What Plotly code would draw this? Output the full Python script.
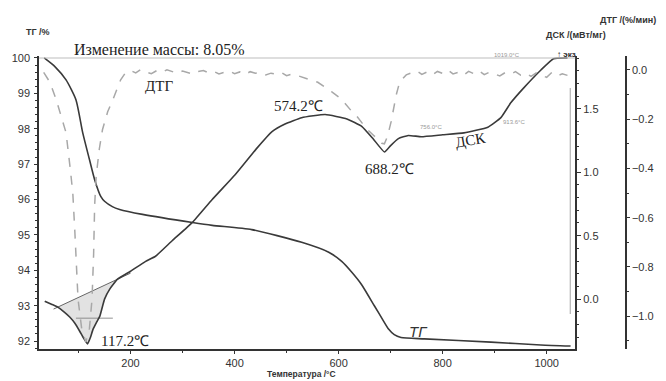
import numpy as np
import plotly.graph_objects as go

# ---------------- data ----------------
temp_tg = [34, 55, 76, 95, 108, 121, 131, 143, 150, 165, 179, 223, 319, 357, 433, 529, 581,
           606, 625, 644, 669, 685, 696, 707, 720, 765, 893, 989, 1046]
tg = [100.0, 99.75, 99.38, 98.82, 97.89, 97.13, 96.56, 96.08, 95.95, 95.80, 95.72, 95.58, 95.35,
      95.27, 95.15, 94.79, 94.51, 94.25, 93.95, 93.60, 92.99, 92.60, 92.34, 92.18, 92.10, 92.06,
      91.97, 91.89, 91.86]

temp_dsc = [35, 48, 60, 72, 83, 93, 102, 110, 117.2, 123, 128, 135, 141, 150, 160, 175,
            200, 229, 248, 280, 319, 357, 401, 443, 472, 497, 529, 574.2,
            616, 645, 667, 688.2, 700, 715, 734, 759, 800, 841,
            887, 912, 931, 956, 989, 1013, 1040]
dsc = [-0.016, -0.04, -0.063, -0.10, -0.141, -0.19, -0.251, -0.31, -0.353, -0.30, -0.236, -0.18,
       -0.134, 0.0, 0.079, 0.157,
       0.22, 0.298, 0.338, 0.46, 0.605, 0.785, 0.98, 1.19, 1.32, 1.38, 1.43, 1.455,
       1.42, 1.36, 1.26, 1.16, 1.21, 1.265, 1.29, 1.28, 1.295, 1.31,
       1.355, 1.43, 1.547, 1.665, 1.806, 1.895, 1.90]

temp_dtg = [33, 45, 57, 66, 76, 84, 89, 93, 99, 106, 114, 121, 126, 129, 131, 134, 140, 146, 156,
            166, 181, 190,
            200, 210, 220, 230, 240, 250, 260, 270, 280, 290, 300, 310, 320, 330, 340, 350, 360,
            370, 380, 390, 400, 410, 420, 430, 440, 450, 460, 470, 480, 490, 500, 510, 520, 530,
            545, 560, 575, 587, 600, 612, 624, 634, 645, 657, 667, 676, 683, 688, 694, 701, 706,
            711, 716, 721, 730,
            740, 750, 760, 770, 780, 790, 800, 810, 820, 830, 840, 850, 860, 870, 880, 890, 900,
            910, 920, 930, 940, 950, 960, 970, 980, 990, 1000, 1010, 1020, 1030, 1040]
dtg = [-0.01, -0.05, -0.12, -0.18, -0.255, -0.40, -0.50, -0.66, -0.93, -1.05, -1.105, -1.05,
       -0.93, -0.75, -0.55, -0.43, -0.32, -0.243, -0.17, -0.121, -0.04, -0.012,
       -0.002, -0.012, 0.002, -0.008, -0.015, -0.003, -0.010, 0.001, -0.007, -0.014, -0.004,
       -0.010, -0.017, -0.006, -0.002, -0.012, -0.006, -0.016, -0.009, -0.004, -0.015, -0.008,
       -0.019, -0.007, -0.013, -0.010, -0.020, -0.013, -0.017, -0.010, -0.023, -0.017, -0.022,
       -0.028,
       -0.04, -0.05, -0.07, -0.089, -0.11, -0.135, -0.165, -0.185, -0.215, -0.245, -0.265,
       -0.285, -0.298, -0.30, -0.27, -0.21, -0.15, -0.10, -0.06, -0.04, -0.02,
       -0.012, -0.004, -0.018, -0.008, -0.020, -0.006, -0.014, 0.000, -0.016, -0.010, -0.022,
       -0.006, -0.015, -0.003, -0.019, -0.009, -0.017, -0.024, -0.011, -0.018, -0.007, -0.021,
       -0.013, -0.026, -0.012, -0.020, -0.030, -0.010, -0.024, -0.016, -0.022]

peak_labels = ["117.2℃", "574.2℃", "688.2℃"]
mass_change = "Изменение массы: 8.05%"

# DSC baseline construction around the first endotherm
onset_T, endset_T, base_ext_T = 60, 175, 200
half_T = (95, 166)
half_level = -0.15

# ---------------- geometry ----------------
W, H = 666, 381
L, R, T, B = 36, 626, 56, 350       # plotting paper area in pixels
X_AXIS_RIGHT = 575


def P(px, py):
    return (px - L) / (R - L), (B - py) / (B - T)


xdom_end = (X_AXIS_RIGHT - L) / (R - L)

fig = go.Figure()

# shaded peak area + baseline (built from DSC data)
td = np.array(temp_dsc, dtype=float)
dd = np.array(dsc, dtype=float)
b0 = np.interp(onset_T, td, dd)
b1 = np.interp(endset_T, td, dd)
mask = (td > onset_T) & (td < endset_T)
poly_x = [onset_T] + list(td[mask]) + [endset_T, onset_T]
poly_y = [b0] + list(dd[mask]) + [b1, b0]
fig.add_trace(go.Scatter(x=poly_x, y=poly_y, mode="lines", fill="toself",
                         fillcolor="rgba(190,190,190,0.45)", line=dict(width=0),
                         yaxis="y2", hoverinfo="skip", showlegend=False))
slope = (b1 - b0) / (endset_T - onset_T)
fig.add_trace(go.Scatter(x=[onset_T - 8, base_ext_T],
                         y=[b0 - 8 * slope, b0 + (base_ext_T - onset_T) * slope],
                         mode="lines", line=dict(color="#666", width=1), yaxis="y2",
                         showlegend=False))
fig.add_trace(go.Scatter(x=list(half_T), y=[half_level, half_level], mode="lines",
                         line=dict(color="#777", width=0.8), yaxis="y2", showlegend=False))

# curves
fig.add_trace(go.Scatter(x=temp_dtg, y=dtg, mode="lines",
                         line=dict(color="#a8a8a8", width=1.5, dash="dash"),
                         yaxis="y3", showlegend=False))
fig.add_trace(go.Scatter(x=temp_tg, y=tg, mode="lines",
                         line=dict(color="#3a3a3a", width=1.6, shape="spline", smoothing=0.6),
                         yaxis="y", showlegend=False))
fig.add_trace(go.Scatter(x=temp_dsc, y=dsc, mode="lines",
                         line=dict(color="#3a3a3a", width=1.6, shape="spline", smoothing=0.4),
                         yaxis="y2", showlegend=False))

tickfont = dict(family="Liberation Sans", size=11, color="#333")

fig.update_layout(
    width=W, height=H, margin=dict(l=L, r=W - R, t=T, b=H - B, pad=0),
    paper_bgcolor="white", plot_bgcolor="white",
    xaxis=dict(domain=[0, xdom_end], range=[24, 1055], showgrid=False, zeroline=False,
               showline=True, linecolor="#333", linewidth=1.5, ticks="outside",
               ticklen=3, tickcolor="#333", dtick=200, tick0=0, tickfont=tickfont,
               minor=dict(dtick=100, ticks="outside", ticklen=2, tickcolor="#333")),
    yaxis=dict(range=[91.775, 100.056], showgrid=False, zeroline=False, showline=True,
               linecolor="#333", linewidth=1.5, ticks="outside", ticklen=3, tickcolor="#333",
               dtick=1, tickfont=tickfont, ticklabelstandoff=2,
               minor=dict(dtick=0.2, ticks="outside", ticklen=2, tickcolor="#333")),
    yaxis2=dict(range=[-0.393, 1.916], overlaying="y", side="right", anchor="x",
                showgrid=False, zeroline=False, showline=True, linecolor="#333", linewidth=1.5,
                ticks="outside", ticklen=4, tickcolor="#333", dtick=0.5, tick0=0,
                tickformat=".1f", tickfont=tickfont,
                minor=dict(dtick=0.1, ticks="outside", ticklen=2, tickcolor="#333")),
    yaxis3=dict(range=[-1.1336, 0.0567], overlaying="y", side="right", anchor="free",
                position=1.0, showgrid=False, zeroline=False, showline=True, linecolor="#333",
                linewidth=1.5, ticks="outside", ticklen=3, tickcolor="#333", dtick=0.2,
                tick0=0, tickformat=".1f", tickfont=tickfont,
                minor=dict(dtick=0.1, ticks="outside", ticklen=2, tickcolor="#333")),
)

# light top reference line at 100 %
fig.add_shape(type="line", xref="paper", yref="y", x0=0, x1=xdom_end, y0=100, y1=100,
              line=dict(color="#bdbdbd", width=1.2))
# vertical marker line near the right end
vx0, vy0 = P(570, 88)
_, vy1 = P(570, 315)
fig.add_shape(type="line", xref="paper", yref="paper", x0=vx0, x1=vx0, y0=vy0, y1=vy1,
              line=dict(color="#b5b5b5", width=1.2))


def ann(text, px, py, size, family="Liberation Serif", color="#222", angle=0, **kw):
    x, y = P(px, py)
    fig.add_annotation(text=text, x=x, y=y, xref="paper", yref="paper", showarrow=False,
                       xanchor="center", yanchor="middle", textangle=angle,
                       font=dict(family=family, size=size, color=color, **kw))


sans = "Liberation Sans"
ann("<b>ТГ /%</b>", 35, 32, 9, family=sans, color="#333")
ann("<b>ДСК /(мВт/мг)</b>", 576, 35, 9, family=sans, color="#333")
ann("<b>ДТГ /(%/мин)</b>", 628, 20, 9, family=sans, color="#333")
ann("<b>Температура /°C</b>", 300, 375.5, 8.5, family=sans, color="#333")
ann(mass_change, 157, 49, 16)
ann("ДТГ", 157, 86, 15)
ann(peak_labels[1], 297, 106, 15)
ann(peak_labels[2], 388, 169, 15)
ann(peak_labels[0], 122, 342, 15)
ann("ДСК", 470, 140, 15, angle=-10)
ann("<i>ТГ</i>", 417, 332, 15, family=sans, color="#333")
ann("<b>↑ экз</b>", 566, 54, 8, family=sans, color="#222")
ann("1019.0°C", 506, 55, 6, family=sans, color="#999")
ann("756.0°C", 430, 127, 6, family=sans, color="#999")
ann("913.6°C", 513, 122, 6, family=sans, color="#999")

fig.write_html("out.html")
